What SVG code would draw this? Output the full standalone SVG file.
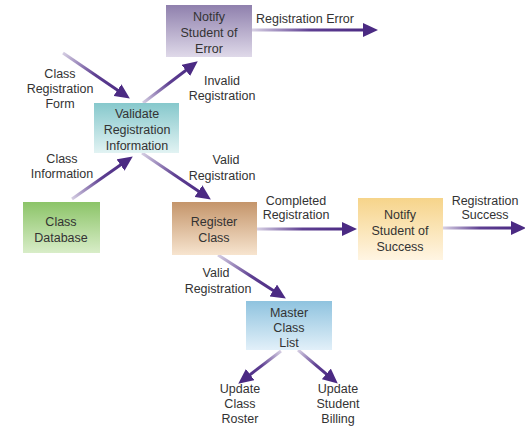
<svg xmlns="http://www.w3.org/2000/svg" width="525" height="428" viewBox="0 0 525 428">
  <style>
    text { font-family: "Liberation Sans", Arial, sans-serif; font-size: 12.5px; fill: #333; text-anchor: middle; }
    .flow { fill: none; stroke-width: 3; marker-end: url(#head); }
  </style>
  <defs>
    <marker id="head" markerUnits="userSpaceOnUse" markerWidth="15" markerHeight="14" refX="6" refY="7" orient="auto">
      <path d="M0,0 L15,7 L0,14 Z" fill="#4b2a83"/>
    </marker>
    <!-- box fills: darker at the top, fading downward -->
    <linearGradient id="gErr" x1="0" y1="0" x2="0" y2="1"><stop offset="0" stop-color="#8f80ad"/><stop offset="1" stop-color="#dfd9e9"/></linearGradient>
    <linearGradient id="gVal" x1="0" y1="0" x2="0" y2="1"><stop offset="0" stop-color="#86c8cc"/><stop offset="1" stop-color="#e2f3f3"/></linearGradient>
    <linearGradient id="gDb" x1="0" y1="0" x2="0" y2="1"><stop offset="0" stop-color="#8cc468"/><stop offset="1" stop-color="#d8edc8"/></linearGradient>
    <linearGradient id="gReg" x1="0" y1="0" x2="0" y2="1"><stop offset="0" stop-color="#c4956a"/><stop offset="1" stop-color="#f7e4cf"/></linearGradient>
    <linearGradient id="gOk" x1="0" y1="0" x2="0" y2="1"><stop offset="0" stop-color="#f6d48a"/><stop offset="1" stop-color="#fff5e3"/></linearGradient>
    <linearGradient id="gMas" x1="0" y1="0" x2="0" y2="1"><stop offset="0" stop-color="#8fc3df"/><stop offset="1" stop-color="#e2f0f9"/></linearGradient>
    <!-- connector strokes: pale at the tail, deep purple at the head -->
    <linearGradient id="a1" gradientUnits="userSpaceOnUse" x1="63" y1="53" x2="122" y2="93"><stop offset="0" stop-color="#d6cfe3"/><stop offset="0.55" stop-color="#5e3f92"/><stop offset="1" stop-color="#4b2a83"/></linearGradient>
    <linearGradient id="a2" gradientUnits="userSpaceOnUse" x1="72" y1="199" x2="125" y2="162"><stop offset="0" stop-color="#d6cfe3"/><stop offset="0.55" stop-color="#5e3f92"/><stop offset="1" stop-color="#4b2a83"/></linearGradient>
    <linearGradient id="a3" gradientUnits="userSpaceOnUse" x1="143" y1="103" x2="191" y2="67"><stop offset="0" stop-color="#d6cfe3"/><stop offset="0.55" stop-color="#5e3f92"/><stop offset="1" stop-color="#4b2a83"/></linearGradient>
    <linearGradient id="a4" gradientUnits="userSpaceOnUse" x1="252" y1="30" x2="369" y2="30"><stop offset="0" stop-color="#d6cfe3"/><stop offset="0.5" stop-color="#5e3f92"/><stop offset="1" stop-color="#4b2a83"/></linearGradient>
    <linearGradient id="a5" gradientUnits="userSpaceOnUse" x1="142" y1="153" x2="203" y2="194"><stop offset="0" stop-color="#d6cfe3"/><stop offset="0.55" stop-color="#5e3f92"/><stop offset="1" stop-color="#4b2a83"/></linearGradient>
    <linearGradient id="a6" gradientUnits="userSpaceOnUse" x1="257" y1="229" x2="348" y2="229"><stop offset="0" stop-color="#d6cfe3"/><stop offset="0.5" stop-color="#5e3f92"/><stop offset="1" stop-color="#4b2a83"/></linearGradient>
    <linearGradient id="a7" gradientUnits="userSpaceOnUse" x1="443" y1="228" x2="517" y2="228"><stop offset="0" stop-color="#d6cfe3"/><stop offset="0.5" stop-color="#5e3f92"/><stop offset="1" stop-color="#4b2a83"/></linearGradient>
    <linearGradient id="a8" gradientUnits="userSpaceOnUse" x1="218" y1="255" x2="278" y2="294"><stop offset="0" stop-color="#d6cfe3"/><stop offset="0.55" stop-color="#5e3f92"/><stop offset="1" stop-color="#4b2a83"/></linearGradient>
    <linearGradient id="a9" gradientUnits="userSpaceOnUse" x1="281" y1="351" x2="245" y2="378"><stop offset="0" stop-color="#d6cfe3"/><stop offset="0.55" stop-color="#5e3f92"/><stop offset="1" stop-color="#4b2a83"/></linearGradient>
    <linearGradient id="a10" gradientUnits="userSpaceOnUse" x1="298" y1="350" x2="331" y2="378"><stop offset="0" stop-color="#d6cfe3"/><stop offset="0.55" stop-color="#5e3f92"/><stop offset="1" stop-color="#4b2a83"/></linearGradient>
  </defs>

  <g id="connectors">
    <path class="flow" stroke="url(#a1)" d="M63,53 L122.4,93.5"/>
    <path class="flow" stroke="url(#a2)" d="M72,199 L125.4,161.6"/>
    <path class="flow" stroke="url(#a3)" d="M143,103 L190.6,66.8"/>
    <path class="flow" stroke="url(#a4)" d="M252,30 L369,30"/>
    <path class="flow" stroke="url(#a5)" d="M142,153 L203.4,194.5"/>
    <path class="flow" stroke="url(#a6)" d="M257,229 L348,229"/>
    <path class="flow" stroke="url(#a7)" d="M443,228 L517,228"/>
    <path class="flow" stroke="url(#a8)" d="M218,255 L278.3,293.7"/>
    <path class="flow" stroke="url(#a9)" d="M281,351 L245.4,378.2"/>
    <path class="flow" stroke="url(#a10)" d="M298,350 L330.9,377.8"/>
  </g>

  <g id="labels">
    <text x="305" y="23">Registration Error</text>
    <text x="60" y="78">Class</text>
    <text x="60" y="93">Registration</text>
    <text x="60" y="108">Form</text>
    <text x="222" y="85">Invalid</text>
    <text x="222" y="100">Registration</text>
    <text x="62" y="163">Class</text>
    <text x="62" y="178">Information</text>
    <text x="226" y="164">Valid</text>
    <text x="222" y="180">Registration</text>
    <text x="296" y="205">Completed</text>
    <text x="296" y="219">Registration</text>
    <text x="485" y="205">Registration</text>
    <text x="485" y="219">Success</text>
    <text x="216" y="277">Valid</text>
    <text x="218" y="293">Registration</text>
    <text x="240" y="393">Update</text>
    <text x="240" y="408">Class</text>
    <text x="240" y="423">Roster</text>
    <text x="338" y="393">Update</text>
    <text x="338" y="408">Student</text>
    <text x="338" y="423">Billing</text>
  </g>

  <g id="notify-error">
    <rect x="166" y="5" width="86" height="52" fill="url(#gErr)"/>
    <text x="209" y="21">Notify</text>
    <text x="209" y="37">Student of</text>
    <text x="209" y="53">Error</text>
  </g>

  <g id="validate">
    <rect x="94" y="103" width="85" height="50" fill="url(#gVal)"/>
    <text x="137" y="118">Validate</text>
    <text x="137" y="134">Registration</text>
    <text x="137" y="150">Information</text>
  </g>

  <g id="class-database">
    <rect x="23" y="202" width="77" height="51" fill="url(#gDb)"/>
    <text x="61" y="226">Class</text>
    <text x="61" y="242">Database</text>
  </g>

  <g id="register-class">
    <rect x="172" y="202" width="85" height="53" fill="url(#gReg)"/>
    <text x="214" y="226">Register</text>
    <text x="214" y="242">Class</text>
  </g>

  <g id="notify-success">
    <rect x="358" y="198" width="85" height="62" fill="url(#gOk)"/>
    <text x="400" y="219">Notify</text>
    <text x="400" y="235">Student of</text>
    <text x="400" y="251">Success</text>
  </g>

  <g id="master-class-list">
    <rect x="246" y="301" width="86" height="49" fill="url(#gMas)"/>
    <text x="289" y="317">Master</text>
    <text x="289" y="332">Class</text>
    <text x="289" y="347">List</text>
  </g>
</svg>
